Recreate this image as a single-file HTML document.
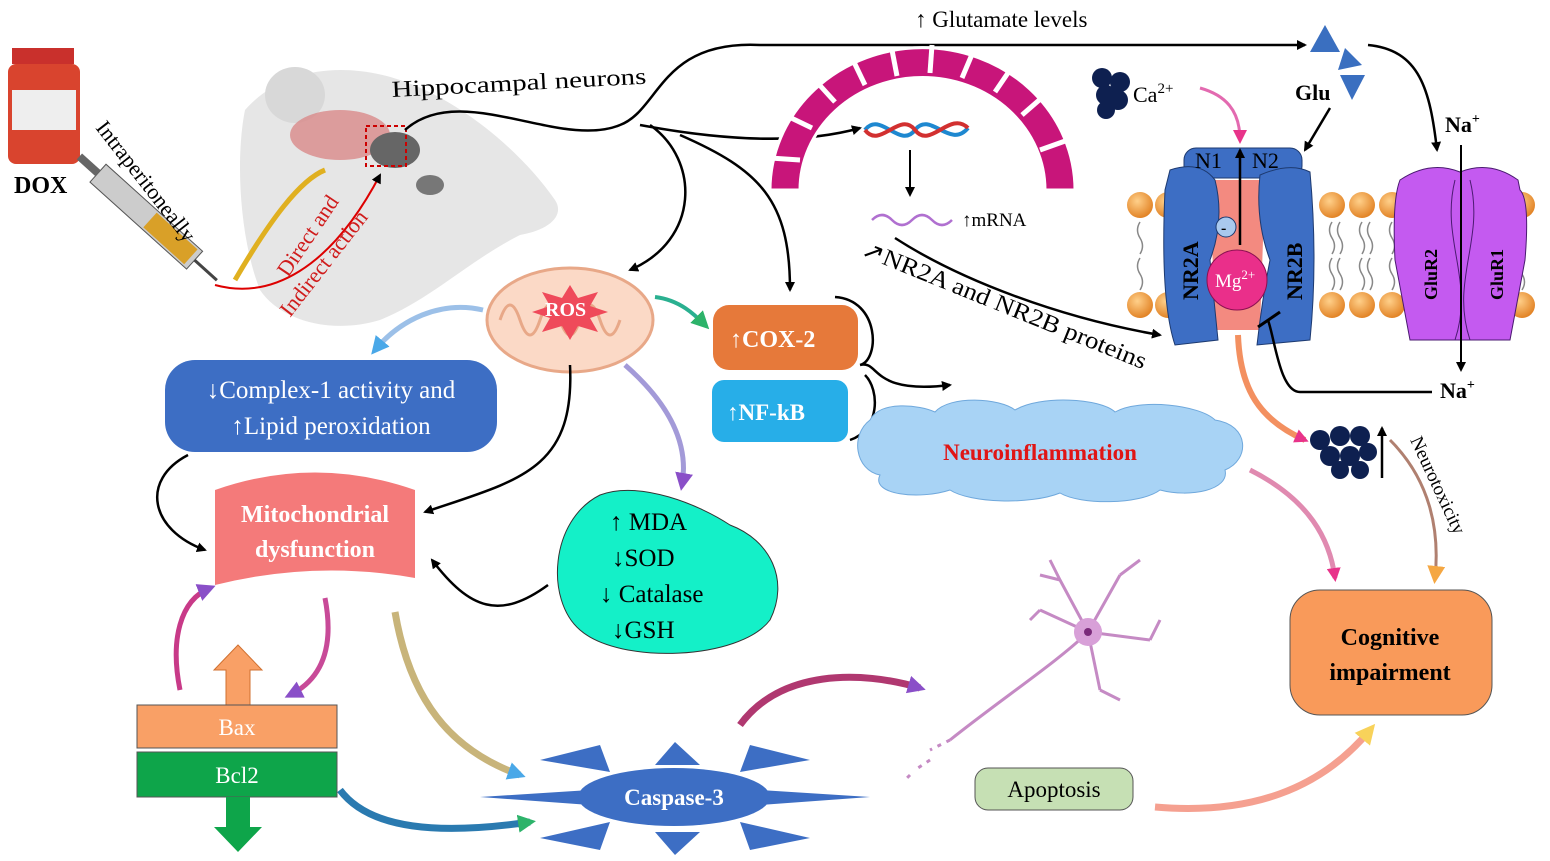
<!DOCTYPE html>
<html><head><meta charset="utf-8"><style>
html,body{margin:0;padding:0;background:#fff;}
svg{display:block;font-family:"Liberation Serif",serif;}
</style></head><body>
<svg width="1550" height="861" viewBox="0 0 1550 861" xmlns="http://www.w3.org/2000/svg">
<defs>
<marker id="ah" markerWidth="10" markerHeight="10" refX="8" refY="5" orient="auto" markerUnits="userSpaceOnUse"><path d="M0,0 L10,5 L0,10 z" fill="#000"/></marker>
<marker id="ahp" markerWidth="14" markerHeight="14" refX="10" refY="7" orient="auto" markerUnits="userSpaceOnUse"><path d="M0,0 L14,7 L0,14 z" fill="#e8338a"/></marker>
<marker id="ahb" markerWidth="18" markerHeight="18" refX="12" refY="9" orient="auto" markerUnits="userSpaceOnUse"><path d="M0,0 L18,9 L0,18 z" fill="#4aa8e8"/></marker>
<marker id="ahv" markerWidth="18" markerHeight="18" refX="12" refY="9" orient="auto" markerUnits="userSpaceOnUse"><path d="M0,0 L18,9 L0,18 z" fill="#8a4fc8"/></marker>
<marker id="aho" markerWidth="18" markerHeight="18" refX="12" refY="9" orient="auto" markerUnits="userSpaceOnUse"><path d="M0,0 L18,9 L0,18 z" fill="#f5a742"/></marker>
<marker id="ahg" markerWidth="18" markerHeight="18" refX="12" refY="9" orient="auto" markerUnits="userSpaceOnUse"><path d="M0,0 L18,9 L0,18 z" fill="#2db36a"/></marker>
<marker id="ahy" markerWidth="20" markerHeight="20" refX="12" refY="10" orient="auto" markerUnits="userSpaceOnUse"><path d="M0,0 L20,10 L0,20 z" fill="#f8d25a"/></marker>
<radialGradient id="ball" cx="0.4" cy="0.35" r="0.7"><stop offset="0" stop-color="#ffd08a"/><stop offset="1" stop-color="#e07e1f"/></radialGradient>
</defs>

<!-- DOX vial -->
<rect x="12" y="48" width="62" height="16" fill="#c9302c"/>
<rect x="8" y="64" width="72" height="100" rx="8" fill="#d9442e"/>
<rect x="12" y="90" width="64" height="40" fill="#eee"/>
<text x="14" y="193" font-size="24" font-weight="bold">DOX</text>
<!-- syringe -->
<g transform="translate(150,220) rotate(42)">
<rect x="-70" y="-12" width="130" height="24" fill="#ccc" stroke="#555"/>
<rect x="0" y="-10" width="55" height="20" fill="#d9a028"/>
<rect x="-95" y="-4" width="25" height="8" fill="#666"/>
<line x1="60" y1="0" x2="90" y2="0" stroke="#444" stroke-width="3"/>
</g>
<text transform="translate(95,128) rotate(52)" font-size="22">Intraperitoneally</text>

<!-- mouse head -->
<path d="M245,110 C280,70 340,60 400,80 C460,100 520,150 555,200 C565,215 550,230 520,235 C470,260 430,300 380,320 C330,335 280,320 260,290 C240,240 235,160 245,110z" fill="#e6e6e6"/>
<ellipse cx="295" cy="95" rx="30" ry="28" fill="#d8d8d8"/>
<ellipse cx="340" cy="135" rx="50" ry="25" fill="#d98a8a" opacity="0.8"/>
<ellipse cx="395" cy="150" rx="25" ry="18" fill="#666"/>
<ellipse cx="430" cy="185" rx="14" ry="10" fill="#777"/>
<path d="M235,280 C270,220 300,180 325,170" stroke="#e0b020" stroke-width="5" fill="none"/>
<rect x="366" y="126" width="40" height="40" fill="none" stroke="#c00" stroke-width="2" stroke-dasharray="4,3"/>
<path d="M215,285 C270,300 330,270 380,175" stroke="#d00" stroke-width="2" fill="none" marker-end="url(#ah)"/>
<text transform="translate(288,278) rotate(-56)" font-size="22" fill="#d01c1c">Direct and</text>
<text transform="translate(290,318) rotate(-52)" font-size="22" fill="#d01c1c">Indirect action</text>
<text transform="translate(392,97) rotate(-3)" font-size="23" textLength="255" lengthAdjust="spacingAndGlyphs">Hippocampal neurons</text>

<!-- connectors from neurons -->
<path d="M405,130 C460,80 560,150 620,125 C660,110 660,40 760,45 L1305,45" stroke="#000" stroke-width="2.5" fill="none" marker-end="url(#ah)"/>
<path d="M640,125 C720,140 800,145 860,128" stroke="#000" stroke-width="2.5" fill="none" marker-end="url(#ah)"/>
<path d="M650,125 C700,160 700,240 630,270" stroke="#000" stroke-width="2.5" fill="none" marker-end="url(#ah)"/>
<path d="M680,135 C760,170 790,200 790,290" stroke="#000" stroke-width="2.5" fill="none" marker-end="url(#ah)"/>
<text x="915" y="27" font-size="23">↑ Glutamate levels</text>

<!-- magenta arc -->
<g fill="#c8157a" stroke="#fff" stroke-width="3">
<path d="M770,190 A150,140 0 0 1 1075,190 L1045,190 A122,112 0 0 0 800,190z"/>
</g>
<g stroke="#fff" stroke-width="5">
<line x1="800" y1="160" x2="770" y2="158"/><line x1="812" y1="128" x2="785" y2="115"/><line x1="835" y1="102" x2="815" y2="80"/><line x1="865" y1="85" x2="852" y2="58"/><line x1="897" y1="76" x2="892" y2="50"/><line x1="930" y1="73" x2="932" y2="45"/><line x1="962" y1="78" x2="973" y2="52"/><line x1="995" y1="92" x2="1012" y2="67"/><line x1="1022" y1="115" x2="1045" y2="95"/><line x1="1040" y1="150" x2="1068" y2="140"/>
</g>
<path d="M865,130 C880,110 900,150 915,130 C930,110 950,150 968,128" stroke="#1e88d0" stroke-width="4" fill="none"/>
<path d="M865,130 C880,150 900,110 915,130 C930,150 950,110 968,128" stroke="#d23030" stroke-width="4" fill="none"/>
<line x1="910" y1="150" x2="910" y2="195" stroke="#000" stroke-width="2" marker-end="url(#ah)"/>
<path d="M872,220 q10,-10 20,0 t20,0 t20,0 t20,0" stroke="#b070d0" stroke-width="2.5" fill="none"/>
<text x="962" y="226" font-size="19">↑mRNA</text>
<text transform="translate(860,255) rotate(22)" font-size="24" textLength="305" lengthAdjust="spacingAndGlyphs">↗NR2A and NR2B proteins</text>
<path d="M895,238 C960,280 1060,318 1160,335" stroke="#000" stroke-width="2.5" fill="none" marker-end="url(#ah)"/>

<!-- Ca & Glu -->
<g fill="#0e2050"><circle cx="1102" cy="78" r="10"/><circle cx="1120" cy="82" r="10"/><circle cx="1106" cy="95" r="10"/><circle cx="1118" cy="100" r="10"/><circle cx="1106" cy="110" r="9"/></g>
<text x="1133" y="102" font-size="22">Ca<tspan font-size="15" dy="-9">2+</tspan></text>
<path d="M1200,88 C1225,95 1240,110 1240,140" stroke="#e36ab0" stroke-width="3" fill="none" marker-end="url(#ahp)"/>
<g fill="#3a6fc0"><polygon points="1325,25 1310,52 1340,52"/><polygon points="1345,48 1362,65 1338,70"/><polygon points="1340,75 1365,75 1352,100"/></g>
<text x="1295" y="100" font-size="22" font-weight="bold">Glu</text>
<line x1="1330" y1="108" x2="1305" y2="150" stroke="#000" stroke-width="2.5" marker-end="url(#ah)"/>
<path d="M1368,45 C1420,50 1430,90 1437,150" stroke="#000" stroke-width="2.5" fill="none" marker-end="url(#ah)"/>
<text x="1445" y="132" font-size="22" font-weight="bold">Na<tspan font-size="14" dy="-9">+</tspan></text>

<!-- membrane -->
<g fill="url(#ball)">
<circle cx="1140" cy="205" r="13"/><circle cx="1168" cy="205" r="13"/><circle cx="1332" cy="205" r="13"/><circle cx="1362" cy="205" r="13"/><circle cx="1392" cy="205" r="13"/><circle cx="1522" cy="205" r="13"/>
<circle cx="1140" cy="305" r="13"/><circle cx="1168" cy="305" r="13"/><circle cx="1332" cy="305" r="13"/><circle cx="1362" cy="305" r="13"/><circle cx="1392" cy="305" r="13"/><circle cx="1522" cy="305" r="13"/>
</g>
<g stroke="#888" fill="none" stroke-width="1.5">
<path d="M1332,222 q-5,8 0,16 t0,16 M1340,222 q-5,8 0,16 t0,16 M1362,222 q-5,8 0,16 t0,16 M1370,222 q-5,8 0,16 t0,16 M1392,222 q-5,8 0,16 t0,16"/>
<path d="M1332,258 q-5,8 0,16 t0,16 M1340,258 q-5,8 0,16 t0,16 M1362,258 q-5,8 0,16 t0,16 M1370,258 q-5,8 0,16 t0,16 M1392,258 q-5,8 0,16 t0,16"/>
<path d="M1140,222 q-5,8 0,16 t0,16 M1140,258 q-5,8 0,16 t0,16 M1522,222 q-5,8 0,16 t0,16 M1522,258 q-5,8 0,16 t0,16"/>
</g>
<!-- NMDA receptor -->
<rect x="1184" y="148" width="118" height="30" rx="12" fill="#3d6ec4" stroke="#1d3a70"/>
<path d="M1210,180 L1265,180 L1260,330 L1215,330z" fill="#f38a80"/>
<path d="M1170,170 Q1200,160 1215,180 Q1225,220 1210,260 L1218,340 L1175,345 Q1160,300 1165,190z" fill="#3d6ec4" stroke="#1d3a70"/>
<path d="M1260,175 Q1290,162 1310,172 Q1318,260 1310,340 L1257,345 Q1262,300 1270,260 Q1255,220 1260,175z" fill="#3d6ec4" stroke="#1d3a70"/>
<text x="1195" y="168" font-size="22">N1</text><text x="1252" y="168" font-size="22">N2</text>
<line x1="1240" y1="245" x2="1240" y2="150" stroke="#000" stroke-width="2.5" marker-end="url(#ah)"/>
<circle cx="1226" cy="227" r="10" fill="#a9c9ee" stroke="#1d3a70"/><text x="1221" y="233" font-size="16" font-weight="bold">-</text>
<circle cx="1237" cy="280" r="30" fill="#ea2f8a" stroke="#8a1050"/>
<text x="1215" y="287" font-size="19" fill="#fff">Mg<tspan font-size="13" dy="-8">2+</tspan></text>
<text transform="translate(1198,300) rotate(-90)" font-size="22" font-weight="bold">NR2A</text>
<text transform="translate(1302,300) rotate(-90)" font-size="22" font-weight="bold">NR2B</text>
<path d="M1432,392 L1300,392 C1280,392 1275,340 1268,320" stroke="#000" stroke-width="2.5" fill="none"/>
<line x1="1258" y1="327" x2="1280" y2="312" stroke="#000" stroke-width="3"/>
<!-- AMPA -->
<path d="M1400,180 Q1430,160 1460,172 Q1490,160 1518,180 L1520,190 Q1530,200 1525,260 L1510,340 L1410,340 L1395,260 Q1392,200 1400,180z" fill="#c45af0" stroke="#4a1a70"/>
<path d="M1455,180 C1440,240 1475,280 1455,340 M1470,180 C1485,240 1450,280 1470,340" stroke="#4a1a70" fill="none"/>
<text transform="translate(1437,300) rotate(-90)" font-size="18" font-weight="bold">GluR2</text>
<text transform="translate(1503,300) rotate(-90)" font-size="18" font-weight="bold">GluR1</text>
<line x1="1461" y1="145" x2="1461" y2="370" stroke="#000" stroke-width="2" marker-end="url(#ah)"/>
<text x="1440" y="398" font-size="22" font-weight="bold">Na<tspan font-size="14" dy="-9">+</tspan></text>

<!-- ROS mitochondria -->
<ellipse cx="570" cy="320" rx="83" ry="52" fill="#fbd9c6" stroke="#e8a888" stroke-width="3"/>
<path d="M500,320 q10,-30 20,0 t20,0 t20,0 t20,0 t20,0 t20,0" stroke="#e8a888" stroke-width="3" fill="none"/>
<polygon points="570,285 578,298 598,292 590,306 608,312 590,318 598,332 578,326 570,340 562,326 542,332 550,318 532,312 550,306 542,292 562,298" fill="#ef4a5a"/>
<text x="545" y="316" font-size="20" font-weight="bold" fill="#fff">ROS</text>

<path d="M483,310 C440,300 400,320 375,350" stroke="#9cc0e8" stroke-width="5" fill="none" marker-end="url(#ahb)"/>
<path d="M655,297 C680,300 695,315 705,325" stroke="#2ab090" stroke-width="4" fill="none" marker-end="url(#ahg)"/>
<path d="M625,365 C665,400 690,440 682,485" stroke="#a39ad8" stroke-width="5" fill="none" marker-end="url(#ahv)"/>
<path d="M570,365 C575,470 520,480 425,512" stroke="#000" stroke-width="2.5" fill="none" marker-end="url(#ah)"/>

<!-- COX-2 / NF-kB -->
<rect x="713" y="305" width="145" height="65" rx="16" fill="#e6793a"/>
<text x="730" y="347" font-size="24" font-weight="bold" fill="#fff">↑COX-2</text>
<rect x="712" y="380" width="136" height="62" rx="12" fill="#27aee8"/>
<text x="727" y="420" font-size="23" font-weight="bold" fill="#fff">↑NF-kB</text>
<path d="M835,297 C880,300 880,360 860,365 C880,360 870,395 950,385" stroke="#000" stroke-width="2.5" fill="none" marker-end="url(#ah)"/>
<path d="M850,440 C880,430 880,390 865,375" stroke="#000" stroke-width="2.5" fill="none"/>

<!-- Complex-1 -->
<rect x="165" y="360" width="332" height="92" rx="30" fill="#3d6ec4"/>
<text x="331" y="398" font-size="25" fill="#fff" text-anchor="middle">↓Complex-1 activity and</text>
<text x="331" y="434" font-size="25" fill="#fff" text-anchor="middle">↑Lipid peroxidation</text>
<path d="M188,455 C140,480 150,530 205,550" stroke="#000" stroke-width="2.5" fill="none" marker-end="url(#ah)"/>

<!-- Mito dysfunction -->
<path d="M215,490 Q315,455 415,490 L415,578 Q315,560 215,585z" fill="#f47a7a"/>
<text x="315" y="522" font-size="24" font-weight="bold" fill="#fff" text-anchor="middle">Mitochondrial</text>
<text x="315" y="557" font-size="24" font-weight="bold" fill="#fff" text-anchor="middle">dysfunction</text>

<!-- MDA blob -->
<path d="M600,495 C640,480 700,505 730,525 C770,540 790,580 770,620 C740,660 620,665 580,630 C545,600 550,520 600,495z" fill="#14f0c8" stroke="#333"/>
<text x="610" y="530" font-size="25">↑ MDA</text>
<text x="612" y="566" font-size="25">↓SOD</text>
<text x="600" y="602" font-size="25">↓ Catalase</text>
<text x="612" y="638" font-size="25">↓GSH</text>
<path d="M548,585 C500,620 470,610 432,560" stroke="#000" stroke-width="2.5" fill="none" marker-end="url(#ah)"/>

<!-- Neuroinflammation cloud -->
<path d="M870,420 C880,400 920,405 935,412 C950,395 1000,398 1015,410 C1040,395 1100,398 1115,412 C1140,398 1200,405 1215,420 C1250,425 1250,460 1225,470 C1230,490 1190,498 1160,490 C1140,505 1080,505 1060,493 C1030,505 970,503 950,490 C920,500 870,495 880,475 C855,470 850,435 870,420z" fill="#a8d3f5" stroke="#6fa8dc"/>
<text x="1040" y="460" font-size="23" font-weight="bold" fill="#e01515" text-anchor="middle">Neuroinflammation</text>

<!-- calcium cluster -->
<g fill="#0e2050"><circle cx="1320" cy="440" r="10"/><circle cx="1340" cy="436" r="10"/><circle cx="1360" cy="436" r="10"/><circle cx="1330" cy="456" r="10"/><circle cx="1350" cy="456" r="10"/><circle cx="1368" cy="452" r="9"/><circle cx="1340" cy="470" r="9"/><circle cx="1360" cy="470" r="9"/></g>
<line x1="1382" y1="478" x2="1382" y2="428" stroke="#000" stroke-width="2.5" marker-end="url(#ah)"/>
<path d="M1238,335 C1240,390 1260,420 1305,440" stroke="#f39060" stroke-width="6" fill="none" marker-end="url(#ahp)"/>
<text transform="translate(1410,440) rotate(65)" font-size="19">Neurotoxicity</text>
<path d="M1390,440 C1430,480 1440,530 1435,578" stroke="#b08070" stroke-width="3" fill="none" marker-end="url(#aho)"/>
<path d="M1250,470 C1310,500 1330,540 1335,578" stroke="#e08ab0" stroke-width="5" fill="none" marker-end="url(#ahp)"/>

<!-- Cognitive impairment -->
<rect x="1290" y="590" width="202" height="125" rx="30" fill="#f99a5a" stroke="#555"/>
<text x="1390" y="645" font-size="24" font-weight="bold" text-anchor="middle">Cognitive</text>
<text x="1390" y="680" font-size="24" font-weight="bold" text-anchor="middle">impairment</text>

<!-- neuron -->
<g stroke="#c58ac4" stroke-width="3" fill="none">
<path d="M1088,632 C1060,660 1000,700 950,740 M1088,632 L1060,580 M1088,632 L1120,575 M1088,632 L1150,640 M1088,632 L1100,690 M1088,632 L1040,610 M1060,580 L1040,575 M1120,575 L1140,560 M1150,640 L1160,620 M1060,580 L1050,560 M1100,690 L1120,700 M1040,610 L1030,620"/>
<path d="M950,740 l-20,10 M930,760 l-15,10 M910,775 l-5,5" stroke-dasharray="4,6"/>
</g>
<circle cx="1088" cy="632" r="14" fill="#d8a0d8"/><circle cx="1088" cy="632" r="4" fill="#7a2a7a"/>

<!-- curved arrows lower -->
<path d="M395,612 C410,700 450,750 520,775" stroke="#c8b47a" stroke-width="7" fill="none" marker-end="url(#ahb)"/>
<path d="M325,598 C335,650 320,680 290,695" stroke="#c84a98" stroke-width="5" fill="none" marker-end="url(#ahv)"/>
<path d="M180,690 C170,640 180,600 210,588" stroke="#c83a88" stroke-width="5" fill="none" marker-end="url(#ahv)"/>
<path d="M340,790 C370,830 440,835 530,822" stroke="#2a7ab0" stroke-width="7" fill="none" marker-end="url(#ahg)"/>
<path d="M740,725 C780,670 860,670 920,688" stroke="#b03870" stroke-width="7" fill="none" marker-end="url(#ahv)"/>
<path d="M1155,807 C1250,815 1320,790 1370,730" stroke="#f5a090" stroke-width="7" fill="none" marker-end="url(#ahy)"/>

<!-- Bax / Bcl2 -->
<polygon points="238,645 262,670 250,670 250,705 226,705 226,670 214,670" fill="#f9a066" stroke="#d07030"/>
<rect x="137" y="705" width="200" height="43" fill="#f9a066" stroke="#555"/>
<text x="237" y="735" font-size="23" fill="#fff" text-anchor="middle">Bax</text>
<rect x="137" y="752" width="200" height="45" fill="#0ea54a" stroke="#555"/>
<text x="237" y="783" font-size="23" fill="#fff" text-anchor="middle">Bcl2</text>
<polygon points="226,797 250,797 250,827 262,827 238,852 214,827 226,827" fill="#0ea54a"/>

<!-- Caspase-3 -->
<g fill="#3d6ec4">
<polygon points="675,742 655,765 700,765"/><polygon points="675,855 655,832 700,832"/>
<polygon points="600,745 540,760 610,772"/><polygon points="750,745 810,760 740,772"/>
<polygon points="590,790 480,797 590,805"/><polygon points="760,790 870,797 760,805"/>
<polygon points="610,822 540,838 600,850"/><polygon points="740,822 810,838 750,850"/>
</g>
<ellipse cx="674" cy="797" rx="96" ry="29" fill="#3d6ec4"/>
<text x="674" y="805" font-size="23" font-weight="bold" fill="#fff" text-anchor="middle">Caspase-3</text>

<!-- Apoptosis -->
<rect x="975" y="768" width="158" height="42" rx="13" fill="#c6e0b4" stroke="#555"/>
<text x="1054" y="797" font-size="23" text-anchor="middle">Apoptosis</text>
</svg>
</body></html>
